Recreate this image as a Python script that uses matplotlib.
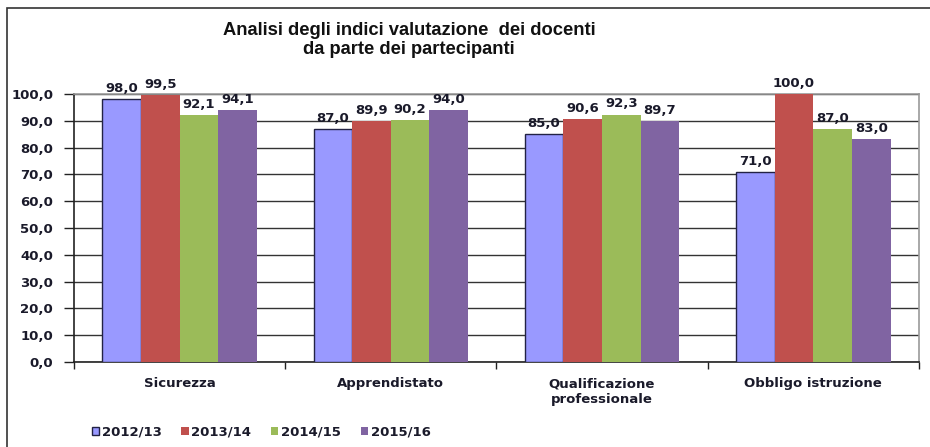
import numpy as np
import matplotlib.pyplot as plt
from matplotlib.patches import Rectangle

plt.rcParams['font.family'] = ['DejaVu Sans']

categories = ["Sicurezza", "Apprendistato", "Qualificazione\nprofessionale", "Obbligo istruzione"]
years = ["2012/13", "2013/14", "2014/15", "2015/16"]
v_1213 = [98.0, 87.0, 85.0, 71.0]
v_1314 = [99.5, 89.9, 90.6, 100.0]
v_1415 = [92.1, 90.2, 92.3, 87.0]
v_1516 = [94.1, 94.0, 89.7, 83.0]
series = [v_1213, v_1314, v_1415, v_1516]
colors = ["#9999FF", "#C0504D", "#9BBB59", "#8064A2"]
edges = ["#222244", "none", "none", "none"]

fig = plt.figure(figsize=(9.30, 4.47), dpi=100)
ax = fig.add_axes([0.0796, 0.190, 0.9084, 0.600])

# outer frame of the chart
fig.patches.append(Rectangle((0.007, -0.05), 1.1, 1.033, transform=fig.transFigure,
                             fill=False, edgecolor='#333333', lw=1.2))

x = np.arange(len(categories))
bw = 0.183
fs = 9.5
for i, vals in enumerate(series):
    pos = x + (i - 1.5) * bw
    ax.bar(pos, vals, width=bw, color=colors[i], edgecolor=edges[i],
           linewidth=1.0 if edges[i] != "none" else 0, label=years[i], zorder=3)
    for px, v in zip(pos, vals):
        ax.text(px, v + 1.5, ("%.1f" % v).replace('.', ','), ha='center', va='bottom',
                fontsize=fs, fontweight='bold', color='#1a1a2a', zorder=4)

ax.set_xlim(-0.5, 3.5)
ax.set_ylim(0, 100)
ax.set_yticks(np.arange(0, 101, 10))
ax.set_yticklabels([("%.1f" % t).replace('.', ',') for t in np.arange(0, 101, 10)],
                   fontsize=fs, fontweight='bold', color='#1a1a2a')
ax.set_xticks(x)
ax.set_xticklabels(categories, fontsize=fs, fontweight='bold', va='top', color='#1a1a2a',
                   linespacing=1.3)
ax.tick_params(axis='x', length=0, pad=11)
ax.set_xticks(np.arange(-0.5, 4.0, 1.0), minor=True)
ax.tick_params(axis='x', which='minor', direction='out', length=5, width=1, color='#222222')
ax.tick_params(axis='y', direction='out', length=7, width=1, color='#222222', pad=8)
ax.yaxis.grid(True, color='#333333', lw=1.0, zorder=0)
ax.set_axisbelow(True)
for s in ['left', 'bottom']:
    ax.spines[s].set_color('#222222')
    ax.spines[s].set_linewidth(1.2)
for s in ['top', 'right']:
    ax.spines[s].set_color('#999999')
    ax.spines[s].set_linewidth(1.2)

fig.text(0.44, 0.91, "Analisi degli indici valutazione  dei docenti\nda parte dei partecipanti",
         ha='center', va='center', fontsize=13.2, fontweight='bold', linespacing=1.12,
         family=['Liberation Sans', 'DejaVu Sans'], color='#111111')

leg = fig.legend(loc='lower left', bbox_to_anchor=(0.086, -0.008), ncol=4, frameon=False,
                 prop={'size': fs, 'weight': 'bold'}, handlelength=0.55, handleheight=0.6,
                 handletextpad=0.2, columnspacing=1.5)
for t in leg.get_texts():
    t.set_color('#1a1a2a')

fig.savefig("out.png", dpi=100)
